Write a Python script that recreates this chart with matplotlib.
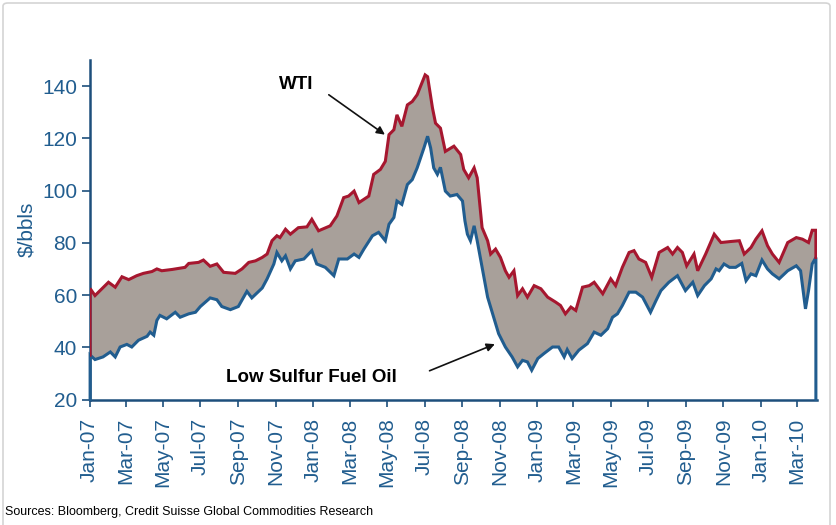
import numpy as np
import pandas as pd
import matplotlib
matplotlib.use('Agg')
import matplotlib.pyplot as plt
import matplotlib.dates as mdates
from matplotlib.patches import FancyBboxPatch

plt.rcParams['font.family'] = ['Liberation Sans', 'DejaVu Sans']

# WTI crude, $/bbl
wti_dates = [
    '2007-01-02', '2007-01-10', '2007-02-01', '2007-02-12', '2007-02-23', '2007-03-06',
    '2007-03-19', '2007-03-30', '2007-04-13', '2007-04-21', '2007-04-29', '2007-05-16',
    '2007-06-06', '2007-06-12', '2007-06-28', '2007-07-06', '2007-07-17', '2007-07-28',
    '2007-08-08', '2007-08-27', '2007-09-07', '2007-09-18', '2007-09-29', '2007-10-10',
    '2007-10-18', '2007-10-26', '2007-11-03', '2007-11-08', '2007-11-17', '2007-11-25',
    '2007-12-08', '2007-12-22', '2007-12-30', '2008-01-10', '2008-01-29', '2008-02-09',
    '2008-02-20', '2008-02-28', '2008-03-08', '2008-03-16', '2008-04-01', '2008-04-09',
    '2008-04-20', '2008-04-28', '2008-05-04', '2008-05-12', '2008-05-17', '2008-05-25',
    '2008-06-03', '2008-06-11', '2008-06-19', '2008-07-02', '2008-07-06', '2008-07-14',
    '2008-07-19', '2008-07-27', '2008-08-04', '2008-08-18', '2008-08-29', '2008-09-03',
    '2008-09-11', '2008-09-20', '2008-09-25', '2008-10-03', '2008-10-12', '2008-10-17',
    '2008-10-25', '2008-11-02', '2008-11-10', '2008-11-16', '2008-11-24', '2008-11-30',
    '2008-12-08', '2008-12-16', '2008-12-27', '2009-01-07', '2009-01-18', '2009-01-31',
    '2009-02-08', '2009-02-16', '2009-02-25', '2009-03-05', '2009-03-16', '2009-03-27',
    '2009-04-04', '2009-04-18', '2009-05-01', '2009-05-09', '2009-05-20', '2009-05-31',
    '2009-06-08', '2009-06-16', '2009-06-27', '2009-07-07', '2009-07-19', '2009-08-02',
    '2009-08-10', '2009-08-18', '2009-08-26', '2009-09-02', '2009-09-14', '2009-09-20',
    '2009-10-03', '2009-10-17', '2009-10-28', '2009-11-13', '2009-11-27', '2009-12-05',
    '2009-12-16', '2009-12-24', '2010-01-03', '2010-01-12', '2010-01-20', '2010-01-31',
    '2010-02-14', '2010-02-28', '2010-03-10', '2010-03-20', '2010-03-26', '2010-04-01',
]
wti_vals = [
    62.5, 59.8, 64.9, 63.0, 67.0, 65.9,
    67.4, 68.3, 69.0, 70.0, 69.3, 69.8,
    70.6, 72.1, 72.5, 73.4, 71.0, 71.9,
    68.7, 68.3, 70.0, 72.5, 73.1, 74.4,
    75.7, 80.8, 82.7, 82.0, 85.2, 83.3,
    85.8, 86.1, 89.0, 84.6, 86.5, 90.3,
    97.3, 97.9, 99.8, 95.4, 97.9, 106.2,
    108.1, 111.2, 121.4, 123.3, 129.0, 124.6,
    132.8, 134.1, 136.7, 144.3, 143.6, 131.6,
    125.8, 123.9, 115.0, 117.0, 113.8, 108.1,
    104.9, 108.7, 104.9, 85.8, 80.8, 75.7,
    77.6, 74.4, 69.3, 66.8, 69.3, 59.8,
    62.4, 59.2, 63.6, 62.4, 59.2, 57.3,
    56.0, 52.8, 55.4, 54.1, 63.0, 63.6,
    64.9, 60.5, 66.2, 63.6, 70.6, 76.3,
    77.0, 73.8, 72.5, 66.8, 76.3, 78.2,
    75.7, 78.2, 76.3, 71.2, 75.7, 69.3,
    75.7, 83.3, 80.1, 80.5, 80.8, 75.7,
    78.2, 81.4, 84.6, 78.9, 75.7, 72.5,
    80.1, 82.0, 81.4, 80.1, 84.8, 84.8,
]

# Low sulfur fuel oil, $/bbl
lsfo_dates = [
    '2007-01-02', '2007-01-10', '2007-01-23', '2007-02-04', '2007-02-12', '2007-02-20',
    '2007-03-03', '2007-03-11', '2007-03-22', '2007-04-05', '2007-04-10', '2007-04-16',
    '2007-04-21', '2007-04-26', '2007-05-07', '2007-05-21', '2007-05-29', '2007-06-12',
    '2007-06-23', '2007-07-01', '2007-07-17', '2007-07-28', '2007-08-05', '2007-08-19',
    '2007-09-01', '2007-09-15', '2007-09-23', '2007-10-10', '2007-10-18', '2007-10-29',
    '2007-11-03', '2007-11-11', '2007-11-17', '2007-11-25', '2007-12-03', '2007-12-17',
    '2007-12-30', '2008-01-07', '2008-01-21', '2008-02-04', '2008-02-12', '2008-02-26',
    '2008-03-08', '2008-03-16', '2008-03-24', '2008-04-07', '2008-04-17', '2008-04-28',
    '2008-05-04', '2008-05-12', '2008-05-17', '2008-05-25', '2008-06-03', '2008-06-11',
    '2008-06-19', '2008-06-30', '2008-07-06', '2008-07-11', '2008-07-16', '2008-07-22',
    '2008-07-27', '2008-08-04', '2008-08-12', '2008-08-23', '2008-09-01', '2008-09-05',
    '2008-09-09', '2008-09-14', '2008-09-20', '2008-09-25', '2008-10-03', '2008-10-12',
    '2008-10-22', '2008-10-30', '2008-11-10', '2008-11-21', '2008-11-30', '2008-12-08',
    '2008-12-16', '2008-12-23', '2009-01-02', '2009-01-12', '2009-01-26', '2009-02-05',
    '2009-02-14', '2009-02-19', '2009-02-27', '2009-03-10', '2009-03-24', '2009-04-04',
    '2009-04-15', '2009-04-26', '2009-05-04', '2009-05-12', '2009-05-20', '2009-05-31',
    '2009-06-11', '2009-06-22', '2009-07-05', '2009-07-14', '2009-07-22', '2009-08-04',
    '2009-08-18', '2009-08-31', '2009-09-12', '2009-09-20', '2009-10-01', '2009-10-12',
    '2009-10-20', '2009-10-25', '2009-11-02', '2009-11-11', '2009-11-21', '2009-12-01',
    '2009-12-08', '2009-12-16', '2009-12-24', '2010-01-03', '2010-01-12', '2010-01-20',
    '2010-01-31', '2010-02-14', '2010-02-28', '2010-03-07', '2010-03-15', '2010-03-20',
    '2010-03-26', '2010-04-01',
]
lsfo_vals = [
    37.0, 35.3, 36.3, 38.2, 36.3, 40.1,
    41.1, 40.1, 42.7, 44.2, 45.8, 44.6,
    50.3, 52.2, 50.9, 53.4, 51.5, 52.8,
    53.4, 55.6, 58.9, 58.2, 55.6, 54.4,
    55.6, 61.4, 58.9, 62.7, 66.2, 71.9,
    76.3, 73.1, 75.0, 70.0, 73.1, 73.8,
    77.0, 71.9, 70.6, 67.4, 73.8, 73.8,
    75.7, 74.4, 77.6, 82.7, 84.0, 80.8,
    87.1, 89.7, 96.0, 94.7, 102.3, 104.2,
    108.7, 116.3, 120.8, 116.3, 108.7, 106.2,
    108.9, 99.8, 97.9, 98.5, 96.0, 88.4,
    83.3, 80.8, 86.5, 80.8, 70.6, 59.2,
    51.5, 45.2, 40.1, 36.3, 32.5, 35.0,
    34.4, 31.2, 35.7, 37.6, 40.1, 40.1,
    36.3, 39.1, 35.7, 38.9, 41.4, 45.8,
    44.6, 47.1, 51.5, 52.8, 56.0, 61.1,
    61.1, 59.2, 53.4, 57.9, 61.7, 64.9,
    67.4, 61.7, 64.9, 59.8, 63.6, 66.2,
    70.0, 69.3, 71.9, 70.6, 70.6, 72.1,
    65.5, 68.1, 67.4, 73.4, 70.0, 68.1,
    66.2, 69.3, 71.2, 69.3, 54.7, 61.7,
    71.9, 74.4,
]

y_min, y_max = 20, 150
red = '#a6172f'
blue = '#215d8f'
axis_blue = '#1d4f7c'
fill_col = '#a8a09a'

wti_x = mdates.date2num(pd.to_datetime(wti_dates))
lsfo_x = mdates.date2num(pd.to_datetime(lsfo_dates))
wti_y = np.array(wti_vals)
lsfo_y = np.array(lsfo_vals)

fig = plt.figure(figsize=(8.36, 5.25), dpi=100)
ax = fig.add_axes([89.5 / 836, 125.5 / 525, 727 / 836, 339.5 / 525])

# spread between the two series
poly_x = np.concatenate([wti_x, lsfo_x[::-1]])
poly_y = np.concatenate([wti_y, lsfo_y[::-1]])
ax.fill(poly_x, poly_y, color=fill_col, linewidth=0, zorder=1)

# Excel-style area edges: closed down at both ends
ax.plot(np.concatenate([[lsfo_x[0]], lsfo_x, [lsfo_x[-1]]]),
        np.concatenate([[y_min], lsfo_y, [y_min]]),
        color=blue, linewidth=2.2, solid_joinstyle='miter', zorder=3, clip_on=False)
ax.plot(np.concatenate([[wti_x[0]], wti_x, [wti_x[-1]]]),
        np.concatenate([[lsfo_y[0]], wti_y, [lsfo_y[-1]]]),
        color=red, linewidth=2.2, solid_joinstyle='miter', zorder=4)

ax.set_ylim(y_min, y_max)
ax.set_xlim(mdates.date2num(pd.Timestamp('2007-01-01')),
            mdates.date2num(pd.Timestamp('2010-04-02')))
ax.set_yticks(range(20, 141, 20))

ax.xaxis.set_major_locator(mdates.MonthLocator(bymonth=[1, 3, 5, 7, 9, 11]))
ax.xaxis.set_major_formatter(mdates.DateFormatter('%b-%y'))
plt.setp(ax.get_xticklabels(), rotation=90)

for side in ['top', 'right']:
    ax.spines[side].set_visible(False)
for side in ['left', 'bottom']:
    ax.spines[side].set_color(axis_blue)
    ax.spines[side].set_linewidth(1.8)

ax.tick_params(axis='y', colors=axis_blue, labelcolor=blue, labelsize=15,
               length=6, width=1.2, pad=3)
ax.tick_params(axis='x', colors=axis_blue, labelcolor=blue, labelsize=15,
               length=5, width=1.2, pad=8)
ax.set_ylabel('$/bbls', color=blue, fontsize=15, labelpad=4)

# callouts
arrow = dict(arrowstyle='-|>', color='#111111', lw=1.2, mutation_scale=12)
ax.annotate('', xy=(mdates.date2num(pd.Timestamp('2008-05-01')), 120.8),
            xytext=(mdates.date2num(pd.Timestamp('2008-01-23')), 137.3),
            arrowprops=arrow, zorder=5)
ax.text(mdates.date2num(pd.Timestamp('2007-12-05')), 140.6, 'WTI', fontsize=13.5,
        fontweight='bold', ha='center', va='center', color='black')
ax.annotate('', xy=(mdates.date2num(pd.Timestamp('2008-10-28')), 41.6),
            xytext=(mdates.date2num(pd.Timestamp('2008-07-05')), 30.6),
            arrowprops=arrow, zorder=5)
ax.text(mdates.date2num(pd.Timestamp('2007-12-30')), 28.6, 'Low Sulfur Fuel Oil',
        fontsize=13.5, fontweight='bold', ha='center', va='center', color='black')

fig.text(5 / 836, 1 - 512 / 525, 'Sources: Bloomberg, Credit Suisse Global Commodities Research',
         fontsize=9, color='black', ha='left', va='center')

# light chart frame
frame = FancyBboxPatch((3 / 836, -0.1), 827 / 836, 1.1 - 3 / 525,
                       boxstyle='round,pad=0,rounding_size=0.006',
                       transform=fig.transFigure, fill=False,
                       edgecolor='#d4d4d4', linewidth=1.2)
fig.patches.append(frame)

fig.savefig('out.png', dpi=100)
plt.close(fig)
